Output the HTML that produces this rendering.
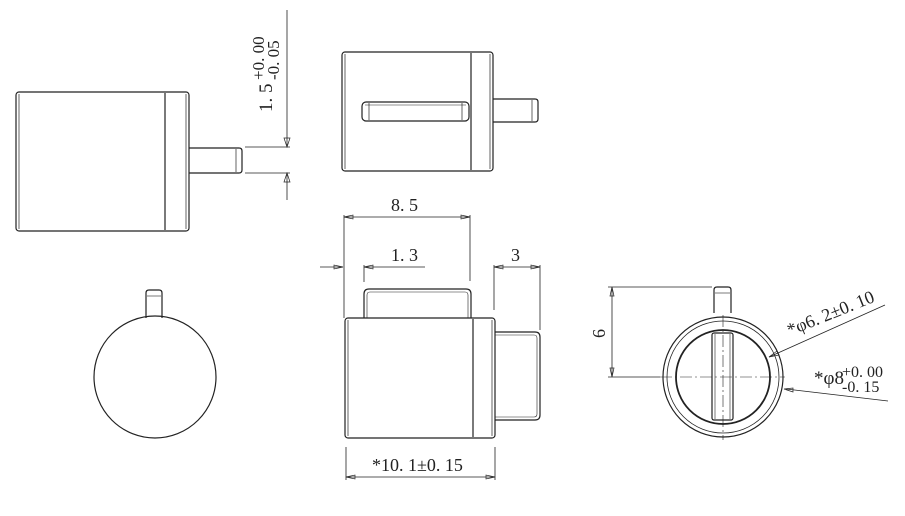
<!DOCTYPE html>
<html><head><style>
html,body{margin:0;padding:0;background:#fff;width:905px;height:516px;overflow:hidden}
svg text{font-family:"Liberation Serif","DejaVu Serif",serif;fill:#222}
</style></head><body>
<svg width="905" height="516" viewBox="0 0 905 516" xmlns="http://www.w3.org/2000/svg">
<g fill="none" stroke="#222" stroke-width="1.2">
<rect x="16" y="92" width="173" height="139" rx="3"/>
<line x1="19" y1="94" x2="19" y2="229" stroke-width="0.7"/>
<line x1="165" y1="93" x2="165" y2="230"/>
<line x1="186" y1="94" x2="186" y2="229" stroke-width="0.7"/>
<path d="M189 148 H239 Q242 148 242 151 V170 Q242 173 239 173 H189"/>
<line x1="236" y1="149" x2="236" y2="172" stroke-width="0.7"/>
<g stroke-width="0.8">
<line x1="245" y1="147" x2="290" y2="147"/>
<line x1="245" y1="173" x2="290" y2="173"/>
<line x1="287" y1="10" x2="287" y2="147"/>
<line x1="287" y1="173" x2="287" y2="200"/>
</g>
<path d="M284 138 L287 147 L290 138 Z M284 182 L287 173 L290 182 Z" stroke-width="0.7"/>
<rect x="342" y="52" width="151" height="119" rx="3"/>
<line x1="345" y1="54" x2="345" y2="169" stroke-width="0.7"/>
<line x1="471" y1="53" x2="471" y2="170"/>
<line x1="490" y1="54" x2="490" y2="169" stroke-width="0.7"/>
<rect x="362" y="102" width="107" height="19" rx="4"/>
<line x1="369" y1="103" x2="369" y2="120" stroke-width="0.7"/>
<line x1="462" y1="103" x2="462" y2="120" stroke-width="0.7"/>
<line x1="365" y1="105" x2="466" y2="105" stroke-width="0.6"/>
<path d="M493 99 H535 Q538 99 538 102 V119 Q538 122 535 122 H493"/>
<line x1="532" y1="100" x2="532" y2="121" stroke-width="0.7"/>
<rect x="345" y="318" width="150" height="120" rx="3"/>
<line x1="348" y1="320" x2="348" y2="436" stroke-width="0.7"/>
<line x1="473" y1="319" x2="473" y2="437"/>
<line x1="492" y1="320" x2="492" y2="436" stroke-width="0.7"/>
<path d="M364 318 V294 Q364 289 369 289 H466 Q471 289 471 294 V318"/>
<path d="M367 318 V295 Q367 292 370 292 H465 Q468 292 468 295 V318" stroke-width="0.6"/>
<path d="M495 332 H535 Q540 332 540 337 V415 Q540 420 535 420 H495"/>
<path d="M495 335 H534 Q537 335 537 338 V414 Q537 417 534 417 H495" stroke-width="0.6"/>
<g stroke-width="0.8">
<line x1="344" y1="215" x2="344" y2="318"/>
<line x1="470" y1="215" x2="470" y2="281"/>
<line x1="344" y1="217" x2="470" y2="217"/>
<line x1="320" y1="267" x2="343" y2="267"/>
<line x1="364" y1="265" x2="364" y2="282"/>
<line x1="364" y1="267" x2="425" y2="267"/>
<line x1="494" y1="265" x2="494" y2="310"/>
<line x1="540" y1="265" x2="540" y2="330"/>
<line x1="494" y1="267" x2="540" y2="267"/>
<line x1="346" y1="447" x2="346" y2="480"/>
<line x1="495" y1="447" x2="495" y2="480"/>
<line x1="346" y1="477" x2="495" y2="477"/>
</g>
<g stroke-width="0.7">
<path d="M344 217 L353 215 L353 219 Z M470 217 L461 215 L461 219 Z"/>
<path d="M343 267 L334 265 L334 269 Z M364 267 L373 265 L373 269 Z"/>
<path d="M494 267 L503 265 L503 269 Z M540 267 L531 265 L531 269 Z"/>
<path d="M346 477 L355 475 L355 479 Z M495 477 L486 475 L486 479 Z"/>
</g>
<circle cx="155" cy="377" r="61"/>
<path d="M146 318 V293 Q146 290 149 290 H159 Q162 290 162 293 V318"/>
<line x1="147" y1="296" x2="161" y2="296" stroke-width="0.6"/>
<circle cx="723" cy="377" r="60"/>
<circle cx="723" cy="377" r="56" stroke-width="0.8"/>
<circle cx="723" cy="377" r="47" stroke-width="1.8"/>
<rect x="712" y="333" width="21" height="87" rx="2"/>
<line x1="715" y1="334" x2="715" y2="419" stroke-width="0.6"/>
<line x1="730" y1="334" x2="730" y2="419" stroke-width="0.6"/>
<path d="M714 313 V290 Q714 287 717 287 H728 Q731 287 731 290 V313"/>
<line x1="715" y1="293" x2="730" y2="293" stroke-width="0.6"/>
<g stroke-width="0.6" stroke-dasharray="12 3 2 3">
<line x1="723" y1="315" x2="723" y2="440"/>
<line x1="660" y1="377" x2="785" y2="377"/>
</g>
<g stroke-width="0.8">
<line x1="608" y1="287" x2="712" y2="287"/>
<line x1="608" y1="377" x2="660" y2="377"/>
<line x1="612" y1="287" x2="612" y2="377"/>
<line x1="769" y1="357" x2="885" y2="305"/>
<line x1="786" y1="389" x2="888" y2="401"/>
</g>
<path d="M610 296 L612 287 L614 296 Z M610 368 L612 377 L614 368 Z M769 357 L777 351 L779 355 Z M784 389 L793 388 L793 392 Z" stroke-width="0.7"/>
</g>
<text x="0" y="0" style="font-size:19px" transform="translate(272,112) rotate(-90)">1. 5</text>
<text x="0" y="0" style="font-size:17px" transform="translate(264,80) rotate(-90)">+0. 00</text>
<text x="0" y="0" style="font-size:17px" transform="translate(279,80) rotate(-90)">-0. 05</text>
<text x="391" y="211" style="font-size:18px">8. 5</text>
<text x="391" y="261" style="font-size:18px">1. 3</text>
<text x="511" y="261" style="font-size:18px">3</text>
<text x="372" y="471" style="font-size:18px">*10. 1±0. 15</text>
<text x="0" y="0" style="font-size:18px" transform="translate(605,338) rotate(-90)">6</text>
<text x="0" y="0" style="font-size:18px" transform="translate(790,336) rotate(-22)">*φ6. 2±0. 10</text>
<text x="814" y="384" style="font-size:19px">*φ8</text>
<text x="842" y="377" style="font-size:16px">+0. 00</text>
<text x="842" y="392" style="font-size:16px">-0. 15</text>
</svg>
</body></html>
